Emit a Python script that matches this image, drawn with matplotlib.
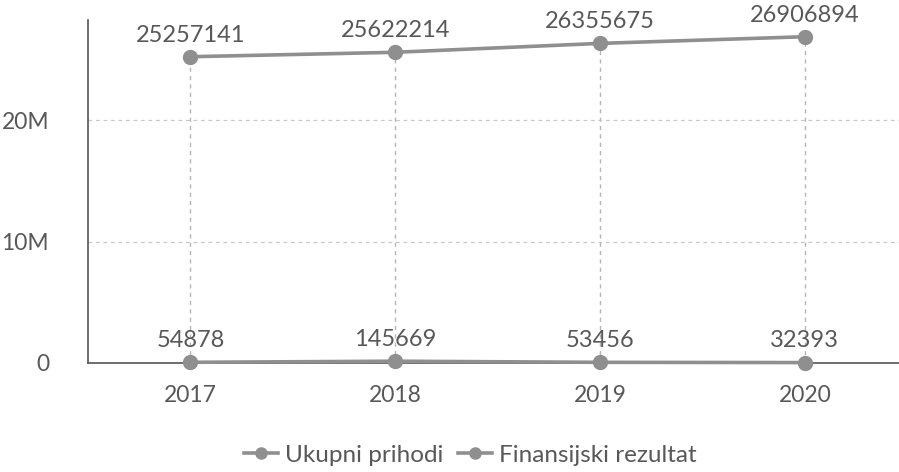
import matplotlib.pyplot as plt
import numpy as np

godine = ["2017", "2018", "2019", "2020"]
ukupni_prihodi = [25257141, 25622214, 26355675, 26906894]
finansijski_rezultat = [54878, 145669, 53456, 32393]
y_ticks = [0, 10e6, 20e6]
y_tick_labels = ["0", "10M", "20M"]

plt.rcParams['font.family'] = ['Lato', 'DejaVu Sans']

siva = "#8f8f8f"
tekst = "#585858"

fig = plt.figure(figsize=(8.99, 4.72), dpi=100)
ax = fig.add_axes([0.098, 0.231, 0.902, 0.727])
x = np.arange(len(godine))

# vertikalne isprekidane linije od nule do gornje tacke
ax.vlines(x, 0, ukupni_prihodi, colors="#b5b5b5", linestyles=(0, (3, 3)), linewidth=1, zorder=1)
ax.grid(axis="y", color="#c8c8c8", linestyle=(0, (3, 3)), linewidth=0.9)

ax.plot(x, ukupni_prihodi, color=siva, linewidth=2.6, marker="o", markersize=10,
        label="Ukupni prihodi", zorder=3, clip_on=False)
ax.plot(x, finansijski_rezultat, color=siva, linewidth=2.6, marker="o", markersize=10,
        label="Finansijski rezultat", zorder=3, clip_on=False)

for xi, v in zip(x, ukupni_prihodi):
    ax.annotate(str(v), (xi, v), xytext=(0, 8), textcoords="offset points",
                ha="center", va="bottom", fontsize=17, color=tekst)
for xi, v in zip(x, finansijski_rezultat):
    ax.annotate(str(v), (xi, v), xytext=(0, 8), textcoords="offset points",
                ha="center", va="bottom", fontsize=17, color=tekst)

ax.set_xlim(-0.5, 3.46)
ax.set_ylim(0, 28.3e6)
ax.set_xticks(x)
ax.set_xticklabels(godine)
ax.set_yticks(y_ticks)
ax.set_yticklabels(y_tick_labels)
ax.tick_params(axis="both", length=0, labelsize=16.5, labelcolor=tekst)
ax.tick_params(axis="x", pad=16)
ax.tick_params(axis="y", pad=28)

ax.spines["top"].set_visible(False)
ax.spines["right"].set_visible(False)
ax.spines["left"].set_color("#555555")
ax.spines["bottom"].set_color("#555555")
ax.spines["left"].set_linewidth(1.2)
ax.spines["bottom"].set_linewidth(1.2)

leg = fig.legend(loc="center", bbox_to_anchor=(0.523, 0.035), ncol=2, frameon=False,
                 fontsize=17.5, handlelength=1.4, markerscale=0.8, columnspacing=0.6,
                 handletextpad=0.3)
for t in leg.get_texts():
    t.set_color(tekst)

fig.savefig("out.png", dpi=100)
